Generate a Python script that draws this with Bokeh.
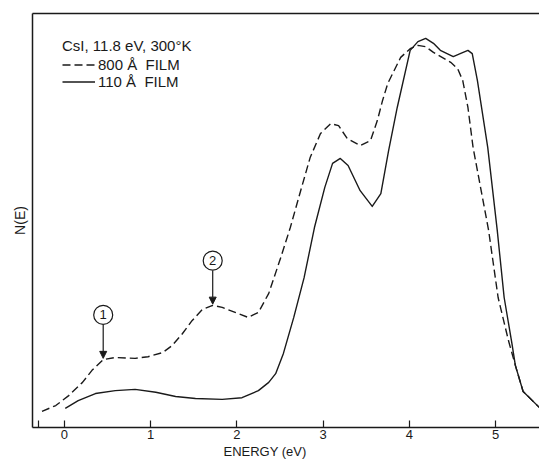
from bokeh.plotting import figure
from bokeh.models import (Range1d, LinearAxis, FixedTicker, Legend, LegendItem, Title,
                          Arrow, NormalHead, ColumnDataSource)
from bokeh.core.properties import value
from bokeh.embed import file_html
from bokeh.resources import INLINE

# ---- data (N(E) in arbitrary units, 0..100) ----
film800_E = [-0.26, -0.10, 0.05, 0.21, 0.32, 0.45, 0.59, 0.82, 0.97, 1.14, 1.25, 1.37,
             1.48, 1.60, 1.72, 1.83, 1.98, 2.13, 2.25, 2.37, 2.51, 2.62, 2.74, 2.85,
             2.97, 3.09, 3.18, 3.28, 3.43, 3.55, 3.63, 3.69, 3.75, 3.90, 4.01, 4.10,
             4.19, 4.28, 4.48, 4.56, 4.62, 4.68, 4.74, 4.92, 5.03, 5.15, 5.23, 5.32, 5.51]
film800_N = [3.9, 5.3, 7.7, 10.9, 13.8, 16.4, 16.9, 16.7, 17.1, 18.1, 19.8, 22.7,
             25.8, 28.5, 29.5, 29.0, 27.8, 26.6, 27.8, 32.4, 41.1, 48.3, 57.2, 65.2,
             71.0, 73.4, 72.9, 69.8, 68.1, 69.3, 74.2, 79.0, 83.1, 89.4, 91.5, 92.3,
             92.0, 90.6, 88.2, 86.7, 83.8, 77.3, 67.6, 47.6, 31.4, 21.0, 15.0, 8.7, 4.8]

film110_E = [0.01, 0.16, 0.36, 0.59, 0.82, 1.06, 1.29, 1.52, 1.83, 2.06, 2.25, 2.37,
             2.45, 2.54, 2.66, 2.78, 2.90, 3.02, 3.11, 3.20, 3.29, 3.43, 3.57, 3.67,
             3.76, 3.86, 4.01, 4.10, 4.19, 4.28, 4.36, 4.51, 4.59, 4.68, 4.73, 4.79,
             4.91, 5.02, 5.10, 5.19, 5.23, 5.32, 5.51]
film110_N = [4.6, 6.5, 8.2, 8.9, 9.2, 8.5, 7.5, 7.0, 6.8, 7.2, 8.9, 10.9,
             13.0, 17.9, 26.6, 36.2, 48.3, 58.0, 63.8, 65.0, 63.3, 57.2, 53.4, 56.5,
             66.9, 77.3, 91.1, 93.2, 94.0, 92.8, 91.1, 89.6, 90.3, 91.1, 90.3, 83.8,
             67.6, 47.6, 31.4, 20.3, 15.0, 8.7, 4.8]

feature_E = [0.45, 1.72]          # structures marked on the 800 Å curve
feature_labels = ["1", "2"]

x_ticks = [0, 1, 2, 3, 4, 5]
x_extra_tick = [-0.3]

FONT = "Liberation Sans"
INK = "#1a1a1a"

p = figure(width=539, height=460, x_range=Range1d(-0.37, 5.51), y_range=Range1d(0, 100),
           output_backend="svg", toolbar_location=None,
           x_axis_type=None, y_axis_type=None,
           min_border_left=32, min_border_right=0, min_border_top=13, min_border_bottom=33)
p.outline_line_color = None
p.background_fill_color = "white"
p.border_fill_color = "white"

# bottom axis
xaxis = LinearAxis(ticker=FixedTicker(ticks=x_ticks, minor_ticks=x_extra_tick),
                   axis_line_color=INK, axis_line_width=1.5,
                   major_tick_in=7, major_tick_out=0, major_tick_line_color=INK, major_tick_line_width=1.2,
                   minor_tick_in=7, minor_tick_out=0, minor_tick_line_color=INK, minor_tick_line_width=1.2,
                   major_label_text_font=FONT, major_label_text_font_size="13px",
                   major_label_text_color=INK, major_label_standoff=2)
p.add_layout(xaxis, "below")

# x axis title (placed under the tick labels, left-aligned with an offset like the original)
p.add_layout(Title(text="ENERGY  (eV)", align="left", offset=191, standoff=0,
                   text_font=FONT, text_font_size="13px", text_font_style="normal",
                   text_color=INK), "below")

# left axis (frame edge + label)
yaxis = LinearAxis(ticker=FixedTicker(ticks=[]), axis_line_color=INK, axis_line_width=1.5,
                   major_tick_line_color=None, minor_tick_line_color=None,
                   major_label_text_font_size="0px",
                   axis_label="N(E)", axis_label_text_font=FONT, axis_label_text_font_size="14px",
                   axis_label_text_font_style="normal", axis_label_text_color=INK,
                   axis_label_standoff=5)
p.add_layout(yaxis, "left")

# top edge
top = LinearAxis(ticker=FixedTicker(ticks=[]), axis_line_color=INK, axis_line_width=1.5,
                 major_tick_line_color=None, minor_tick_line_color=None,
                 major_label_text_font_size="0px")
p.add_layout(top, "above")

src800 = ColumnDataSource(dict(x=film800_E, y=film800_N))
src110 = ColumnDataSource(dict(x=film110_E, y=film110_N))
r800 = p.line("x", "y", source=src800, line_color=INK, line_width=1.4, line_dash="8 4",
              line_join="round")
r110 = p.line("x", "y", source=src110, line_color=INK, line_width=1.4, line_join="round")

# feature markers: circled numbers with arrows pointing to the 800 Å curve
feat_y = [film800_N[film800_E.index(e)] for e in feature_E]
circ_y = [y + 10.8 for y in feat_y]
fsrc = ColumnDataSource(dict(x=feature_E, y=circ_y, t=feature_labels,
                             y0=[y - 2.4 for y in circ_y], y1=[y + 0.3 for y in feat_y]))
p.add_layout(Arrow(end=NormalHead(size=7, fill_color=INK, line_color=INK),
                   x_start="x", y_start="y0", x_end="x", y_end="y1", source=fsrc,
                   line_color=INK, line_width=1.2))
p.scatter("x", "y", source=fsrc, marker="circle", size=19, fill_color="white",
          line_color=INK, line_width=1.2)
p.text("x", "y", text="t", source=fsrc, text_font=value(FONT), text_font_size="13px",
       text_align="center", text_baseline="middle", text_color=INK)

legend = Legend(items=[LegendItem(label="800 Å  FILM", renderers=[r800]),
                       LegendItem(label="110 Å  FILM", renderers=[r110])],
                title="CsI, 11.8 eV, 300°K", location=(30, 337),
                title_text_font=FONT, title_text_font_size="15px", title_text_font_style="normal",
                title_text_color=INK, title_standoff=2,
                label_text_font=FONT, label_text_font_size="15px", label_text_color=INK,
                glyph_width=33, glyph_height=17, label_height=17, label_standoff=3,
                spacing=0, padding=0, margin=0,
                border_line_color=None, background_fill_alpha=0)
p.add_layout(legend)

open("out.html", "w").write(file_html(p, INLINE))
